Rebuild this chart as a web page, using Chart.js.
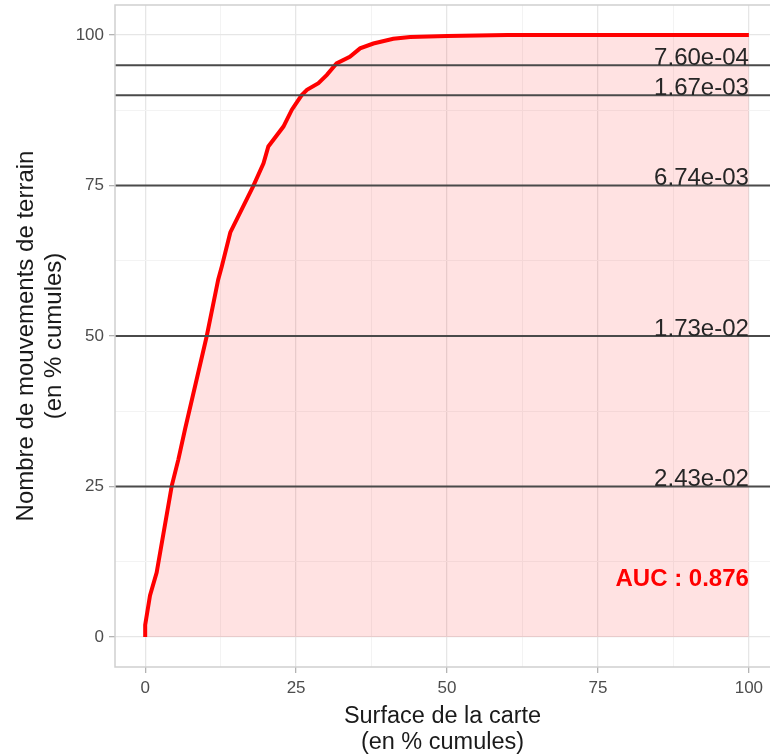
<!DOCTYPE html>
<html>
<head>
<meta charset="utf-8">
<script src="https://cdn.jsdelivr.net/npm/chart.js@4"></script>
<style>
html,body{margin:0;padding:0;background:#fff;}
#wrap{width:770px;height:755px;}
</style>
</head>
<body>
<div id="wrap"><canvas id="c" width="770" height="755"></canvas></div>
<script>
// ---- data ----
const curveX = [0, 0, 0.8, 1.9, 4.4, 5.5, 6.6, 10.2, 12.1, 12.7, 14.1, 17.9, 19.6, 20.4, 22.9, 24.3, 25.9, 26.8, 28.7, 30.1, 31.7, 33.9, 35.6, 37.8, 41.1, 43.9, 50, 60, 100];
const curveY = [0, 2, 6.9, 10.7, 25.1, 29.5, 34.5, 50, 59.4, 61.6, 67.2, 74.9, 78.7, 81.5, 84.8, 87.6, 90, 90.9, 92, 93.4, 95.3, 96.4, 97.8, 98.6, 99.4, 99.7, 99.85, 100, 100];
const thresholdLevels = [25, 50, 75, 90, 95];
const thresholdLabels = ["2.43e-02", "1.73e-02", "6.74e-03", "1.67e-03", "7.60e-04"];
const tickValues = [0, 25, 50, 75, 100];
const minorValues = [12.5, 37.5, 62.5, 87.5];
const aucText = "AUC : 0.876";
const aucY = 9.6;
const xTitle = ["Surface de la carte", "(en % cumules)"];
const yTitle = ["Nombre de mouvements de terrain", "(en % cumules)"];

const X_MIN = -5, X_MAX = 103.5, Y_MIN = -5, Y_MAX = 105;
const FONT = "'Liberation Sans', Arial, sans-serif";

const curveData = curveX.map((x, i) => ({x: x, y: curveY[i]}));
const hlineSets = thresholdLevels.map(v => ({
  type: 'line',
  data: [{x: X_MIN, y: v}, {x: X_MAX, y: v}],
  borderColor: '#4a4a4a',
  borderWidth: 2,
  pointRadius: 0,
  fill: false,
  order: 0
}));

const allTicks = tickValues.concat(minorValues).sort((a, b) => a - b);
const isMajor = v => tickValues.indexOf(v) >= 0;

const overlay = {
  id: 'overlay',
  afterDatasetsDraw(chart) {
    const ctx = chart.ctx, xs = chart.scales.x, ys = chart.scales.y, a = chart.chartArea;
    ctx.save();
    ctx.font = "24px " + FONT;
    ctx.fillStyle = '#262626';
    ctx.textAlign = 'right';
    ctx.textBaseline = 'alphabetic';
    thresholdLevels.forEach((v, i) => {
      ctx.fillText(thresholdLabels[i], xs.getPixelForValue(100), ys.getPixelForValue(v) - 0.5);
    });
    ctx.font = "bold 24px " + FONT;
    ctx.fillStyle = '#ff0000';
    ctx.textBaseline = 'middle';
    ctx.fillText(aucText, xs.getPixelForValue(100), ys.getPixelForValue(aucY));
    ctx.strokeStyle = '#cfcfcf';
    ctx.lineWidth = 1.5;
    ctx.strokeRect(a.left, a.top, a.right - a.left + 2, a.bottom - a.top);
    ctx.restore();
  }
};

function gridOpts() {
  return {
    color: c => isMajor(c.tick.value) ? '#e6e6e6' : '#f3f3f3',
    lineWidth: c => isMajor(c.tick.value) ? 1.3 : 1,
    tickColor: c => isMajor(c.tick.value) ? '#b3b3b3' : 'rgba(0,0,0,0)',
    tickLength: 6,
    drawTicks: true
  };
}

new Chart(document.getElementById('c'), {
  type: 'line',
  data: {
    datasets: [{
      data: curveData,
      borderColor: '#ff0000',
      borderWidth: 4,
      backgroundColor: 'rgba(255, 0, 0, 0.115)',
      fill: 'origin',
      pointRadius: 0,
      tension: 0,
      order: 1
    }].concat(hlineSets)
  },
  options: {
    responsive: false,
    animation: false,
    devicePixelRatio: 1,
    layout: {padding: {top: 5, right: 0, left: 0, bottom: 0}},
    plugins: {legend: {display: false}, tooltip: {enabled: false}},
    scales: {
      x: {
        type: 'linear',
        min: X_MIN, max: X_MAX,
        afterBuildTicks: s => { s.ticks = allTicks.map(v => ({value: v})); },
        afterFit: s => { s.height = 88; s.paddingLeft = 0; s.paddingRight = 0; },
        grid: gridOpts(),
        border: {display: false},
        ticks: {
          autoSkip: false, maxRotation: 0,
          callback: v => isMajor(v) ? String(v) : '',
          color: '#4d4d4d',
          font: {family: FONT, size: 17},
          padding: 5
        },
        title: {
          display: true, text: xTitle, color: '#1a1a1a',
          font: {family: FONT, size: 23.5, lineHeight: 1.08},
          padding: {top: 2, bottom: 0}
        }
      },
      y: {
        type: 'linear',
        min: Y_MIN, max: Y_MAX,
        afterBuildTicks: s => { s.ticks = allTicks.map(v => ({value: v})); },
        afterFit: s => { s.width = 115; s.paddingTop = 0; s.paddingBottom = 0; },
        grid: gridOpts(),
        border: {display: false},
        ticks: {
          autoSkip: false,
          callback: v => isMajor(v) ? String(v) : '',
          color: '#4d4d4d',
          font: {family: FONT, size: 17},
          padding: 5
        },
        title: {
          display: true, text: yTitle, color: '#1a1a1a',
          font: {family: FONT, size: 24, lineHeight: 1.15},
          padding: {top: 13, bottom: 0}
        }
      }
    }
  },
  plugins: [overlay]
});
</script>
</body>
</html>
